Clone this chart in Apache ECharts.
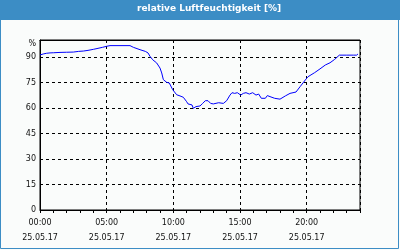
<!DOCTYPE html>
<html><head><meta charset="utf-8">
<script src="https://cdn.jsdelivr.net/npm/echarts@6/dist/echarts.min.js"></script>
<style>html,body{margin:0;padding:0;background:#fafcfb;}#c{width:400px;height:250px;}</style>
</head><body><div id="c"></div>
<script>
const titleText = 'relative Luftfeuchtigkeit [%]';
const dateLabel = '25.05.17';
const xLabelHours = [0, 5, 10, 15, 20];
const yTicks = [0, 15, 30, 45, 60, 75, 90];
const yUnit = '%';
const hours = [0.0,0.25,0.5,0.75,1.0,1.5,2.0,2.5,2.9,3.25,3.6,4.0,4.35,4.7,5.0,5.25,6.0,6.75,7.0,7.5,7.9,8.1,8.25,8.45,8.75,9.0,9.13,9.25,9.5,9.7,9.95,10.25,10.5,10.75,11.0,11.1,11.4,11.5,11.7,12.0,12.2,12.4,12.6,12.8,13.0,13.1,13.4,13.5,13.75,14.0,14.25,14.4,14.6,14.8,15.05,15.25,15.45,15.7,15.95,16.2,16.4,16.6,16.9,17.05,17.25,17.6,18.0,18.4,18.75,19.2,19.5,19.9,20.1,20.6,21.0,21.4,21.75,22.1,22.45,23.0,23.5,23.75,23.85];
const humidity = [91.2,91.8,92.2,92.4,92.5,92.7,92.8,92.9,93.3,93.5,93.9,94.5,95.1,95.7,96.3,96.7,96.7,96.7,95.7,94.3,93.3,92.4,90.4,88.4,86.5,83.5,80.6,76.7,75.1,74.7,70.8,67.8,67.1,66.3,63.7,62.4,61.8,59.8,60.8,61.2,62.7,64.3,64.3,62.7,62.4,61.8,63.1,62.4,62.7,64.3,67.6,69.0,68.6,69.0,67.6,68.6,69.0,68.2,69.0,67.6,68.2,65.7,65.7,67.3,66.7,65.7,65.2,67.1,68.6,69.4,72.5,76.5,78.4,80.8,83.0,85.3,86.6,88.6,91.1,91.1,91.1,91.1,91.8];

const chart = echarts.init(document.getElementById('c'), null, {renderer: 'canvas'});
const font = 'DejaVu Sans';
const pad2 = n => (n < 10 ? '0' : '') + n;
chart.setOption({
  animation: false,
  backgroundColor: '#fafcfb',
  graphic: [
    {type: 'rect', shape: {x: 0, y: 0, width: 400, height: 20}, style: {fill: '#3c8dc5'}, z: 0},
    {type: 'rect', shape: {x: 0.5, y: 0.5, width: 398, height: 248}, style: {fill: null, stroke: '#3c8dc5', lineWidth: 1}, z: 0},
    {type: 'text', left: 137, top: 4, style: {text: titleText, fill: '#ffffff', font: 'bold 9px "DejaVu Sans"'}, z: 1}
  ],
  grid: {left: 40, right: 40, top: 40, bottom: 40, show: true, borderColor: '#000', borderWidth: 1, backgroundColor: 'transparent'},
  xAxis: [
    {type: 'value', min: 0, max: 24, interval: 1, position: 'bottom',
      axisLine: {show: true, lineStyle: {color: '#000', width: 1}},
      axisTick: {show: true, length: 3, inside: false, lineStyle: {color: '#000'}},
      splitLine: {show: false},
      axisLabel: {show: true, margin: 5, color: '#111', fontFamily: font, fontSize: 8, lineHeight: 15,
        formatter: v => xLabelHours.indexOf(v) >= 0 ? pad2(v) + ':00\n' + dateLabel : ''}},
    {type: 'value', min: 0, max: 24, interval: 5, position: 'top',
      axisLine: {show: true, lineStyle: {color: '#000', width: 1}},
      axisTick: {show: false}, axisLabel: {show: false},
      splitLine: {show: true, lineStyle: {color: '#000', type: [3, 3], width: 1}}}
  ],
  yAxis: {type: 'value', min: 0, max: 100, interval: 15,
    axisLine: {show: true, lineStyle: {color: '#000', width: 1}},
    axisTick: {show: false},
    splitLine: {show: true, lineStyle: {color: '#000', type: [3, 3], width: 1}},
    axisLabel: {margin: 4, color: '#111', fontFamily: font, fontSize: 8,
      formatter: v => yTicks.indexOf(v) >= 0 ? String(v) : '{p|' + yUnit + '}',
      rich: {p: {fontFamily: font, fontSize: 8, color: '#111', padding: [7, 0, 0, 0]}}}},
  series: [{type: 'line', xAxisIndex: 0, data: hours.map((h, i) => [h, humidity[i]]),
    showSymbol: false, lineStyle: {color: '#0000ff', width: 1}, itemStyle: {color: '#0000ff'}}]
});
</script></body></html>
